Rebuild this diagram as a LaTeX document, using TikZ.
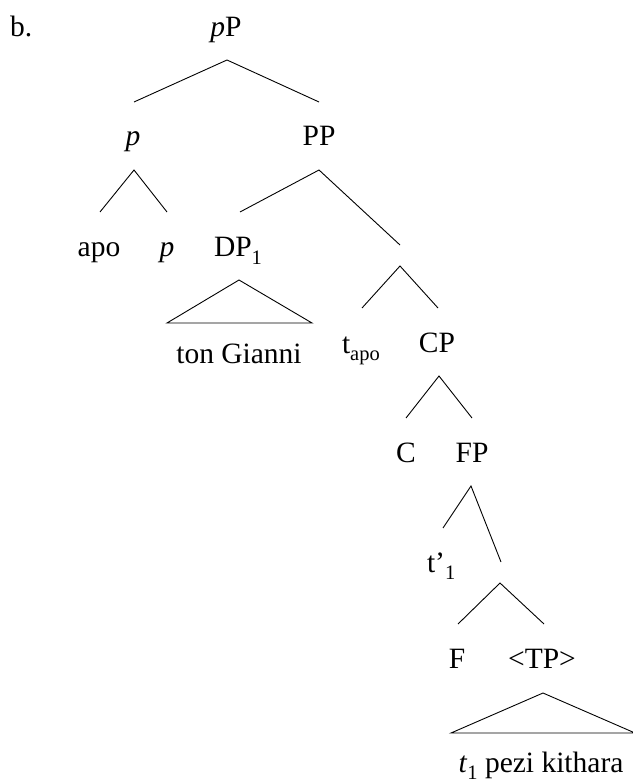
\documentclass[tikz,border=0pt]{standalone}
\usepackage{fontspec}
\setmainfont{Liberation Serif}
\newcommand{\lowsub}[1]{\raisebox{-0.24em}{\fontsize{20.5}{20.5}\selectfont #1}}
\tikzset{
  lbl/.style={inner sep=0pt, outer sep=0pt, font=\fontsize{29.5}{33}\selectfont},
  br/.style={line width=0.9pt, line cap=butt},
}
\begin{document}
\begin{tikzpicture}[x=1pt, y=-1pt]
\useasboundingbox (0,0) rectangle (632,783);
% labels
\node[lbl, anchor=base west] (ex) at (10,37) {b.};
\node[lbl, anchor=base] (pP) at (226,37) {\textit{p}P};
\node[lbl, anchor=base] (p) at (133,146) {\textit{p}};
\node[lbl, anchor=base] (PP) at (319,146) {PP};
\node[lbl, anchor=base] (apo) at (99,257) {apo};
\node[lbl, anchor=base] (p2) at (167,257) {\textit{p}};
\node[lbl, anchor=base west] (DP) at (214,257) {DP\lowsub{1}};
\node[lbl, anchor=base] (tG) at (239,363) {ton Gianni};
\node[lbl, anchor=base west] (tapo) at (342,353) {t\lowsub{apo}};
\node[lbl, anchor=base] (CP) at (437,352) {CP};
\node[lbl, anchor=base] (C) at (406,462) {C};
\node[lbl, anchor=base] (FP) at (472,462) {FP};
\node[lbl, anchor=base west] (t1) at (427,572) {t’\lowsub{1}};
\node[lbl, anchor=base] (F) at (457,668) {F};
\node[lbl, anchor=base] (TP) at (542,668) {<TP>};
\node[lbl, anchor=base] (pk) at (541,772) {\textit{t}\lowsub{1} pezi kithara};
% branch points
\coordinate (pPa) at (227,60);
\coordinate (pPl) at (134,102);
\coordinate (pPr) at (319,102);
\coordinate (pa) at (134,170);
\coordinate (pl) at (100,212);
\coordinate (pr) at (167,212);
\coordinate (PPa) at (319,170);
\coordinate (PPl) at (240,212);
\coordinate (PPr) at (400,245);
\coordinate (Xa) at (400,266);
\coordinate (Xl) at (362,308);
\coordinate (Xr) at (438,308);
\coordinate (DPa) at (239,280);
\coordinate (DPl) at (167,323);
\coordinate (DPr) at (312,323);
\coordinate (CPa) at (439,376);
\coordinate (CPl) at (406,418);
\coordinate (CPr) at (472,418);
\coordinate (FPa) at (471,486);
\coordinate (FPl) at (443,528);
\coordinate (FPr) at (501,562);
\coordinate (Ya) at (500,583);
\coordinate (Yl) at (458,624);
\coordinate (Yr) at (544,624);
\coordinate (TPa) at (543,693);
\coordinate (TPl) at (451,733);
\coordinate (TPr) at (635,733);
% branches
\draw[br] (pPl) -- (pPa) -- (pPr);
\draw[br] (pl) -- (pa) -- (pr);
\draw[br] (PPl) -- (PPa) -- (PPr);
\draw[br] (Xl) -- (Xa) -- (Xr);
\draw[br, line join=miter] (DPa) -- (DPl) -- (DPr) -- cycle;
\draw[br] (CPl) -- (CPa) -- (CPr);
\draw[br] (FPl) -- (FPa) -- (FPr);
\draw[br] (Yl) -- (Ya) -- (Yr);
\draw[br] (TPa) -- (TPl) -- (TPr) -- cycle;
\end{tikzpicture}
\end{document}
